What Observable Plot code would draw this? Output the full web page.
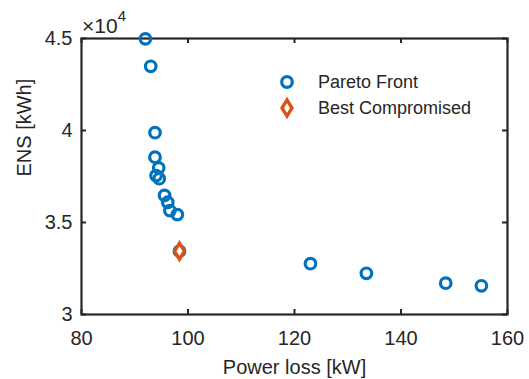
<!DOCTYPE html>
<html>
<head>
<meta charset="utf-8">
<script src="https://cdn.jsdelivr.net/npm/d3@7"></script>
<script src="https://cdn.jsdelivr.net/npm/@observablehq/plot@0.6"></script>
<style>
  html, body { margin: 0; padding: 0; background: #fff; }
  svg { display: block; }
</style>
</head>
<body>
<div id="chart"></div>
<script>
// Power loss [kW]
const paretoLoss = [92.0, 93.0, 93.8, 93.8, 94.5, 94.0, 94.6, 95.6, 96.2, 96.6, 98.0, 98.4, 123.0, 133.5, 148.4, 155.1];
// ENS [kWh] in units of 1e4
const paretoENS = [4.498, 4.349, 3.988, 3.855, 3.797, 3.755, 3.738, 3.647, 3.610, 3.565, 3.543, 3.344, 3.276, 3.224, 3.170, 3.156];
const bestLoss = [98.4];
const bestENS = [3.344];
const xTicks = [80, 100, 120, 140, 160];
const yTicks = [3, 3.5, 4, 4.5];
const seriesNames = ["Pareto Front", "Best Compromised"];
const xLabel = "Power loss [kW]";
const yLabel = "ENS [kWh]";
const exponentBase = "\u00d710";
const exponent = "4";

const blue = "#0072BD";
const orange = "#D95319";
const ink = "#262626";
const font = "'Liberation Sans', Arial, Helvetica, sans-serif";

const pareto = paretoLoss.map((x, i) => ({x, y: paretoENS[i]}));
const best = bestLoss.map((x, i) => ({x, y: bestENS[i]}));

// Tall diamond marker (MATLAB style)
const tallDiamond = {
  draw(context, size) {
    const r = Math.sqrt(size / Math.PI);
    const h = r * 1.3, w = r * 0.8;
    context.moveTo(0, -h);
    context.lineTo(w, 0);
    context.lineTo(0, h);
    context.lineTo(-w, 0);
    context.closePath();
  }
};

const W = 529, H = 379;
const mL = 81, mR = 22, mT = 38, mB = 65;
const innerW = W - mL - mR, innerH = H - mT - mB;
const tk = 5;
const ringR = 5.3, ringW = 3.2;
const diaR = 6.2, diaW = 3.4;

const chart = Plot.plot({
  width: W,
  height: H,
  marginLeft: mL,
  marginRight: mR,
  marginTop: mT,
  marginBottom: mB,
  style: {fontFamily: font, color: ink, background: "#fff"},
  x: {domain: [80, 160]},
  y: {domain: [3, 4.5]},
  marks: [
    Plot.axisX(xTicks, {anchor: "bottom", tickSize: 0, tickPadding: 16, fontSize: 20, fill: ink, label: null, tickFormat: d => String(d)}),
    Plot.axisY(yTicks, {anchor: "left", tickSize: 0, tickPadding: 9, fontSize: 20, fill: ink, label: null, tickFormat: d => String(d)}),
    // inward ticks on all four sides
    Plot.tickX(xTicks, {x: d => d, insetTop: innerH - tk, stroke: ink, strokeWidth: 2}),
    Plot.tickX(xTicks, {x: d => d, insetBottom: innerH - tk, stroke: ink, strokeWidth: 2}),
    Plot.tickY(yTicks, {y: d => d, insetRight: innerW - tk, stroke: ink, strokeWidth: 2}),
    Plot.tickY(yTicks, {y: d => d, insetLeft: innerW - tk, stroke: ink, strokeWidth: 2}),
    Plot.frame({stroke: ink, strokeWidth: 2.2}),
    Plot.dot(pareto, {x: "x", y: "y", r: ringR, stroke: blue, strokeWidth: ringW, fill: "none"}),
    Plot.dot(best, {x: "x", y: "y", r: diaR, symbol: tallDiamond, stroke: orange, strokeWidth: diaW, fill: "#fff"}),
    Plot.text([xLabel], {frameAnchor: "bottom", dy: 53, fontSize: 20, fill: ink, lineAnchor: "middle"}),
    Plot.text([yLabel], {frameAnchor: "left", dx: -57, rotate: -90, fontSize: 20, fill: ink, lineAnchor: "middle"})
  ]
});

document.getElementById("chart").appendChild(chart);

const svg = d3.select(chart);
// exponent annotation
const ex = svg.append("text")
  .attr("x", 82).attr("y", 33).attr("text-anchor", "start")
  .attr("font-family", font).attr("font-size", 21).attr("fill", ink);
ex.append("tspan").text(exponentBase);
ex.append("tspan").attr("dy", -12).attr("font-size", 15).text(exponent);

// legend
const lg = svg.append("g").attr("font-family", font).attr("font-size", 18).attr("fill", ink).attr("text-anchor", "start");
lg.append("rect").attr("x", 268).attr("y", 66).attr("width", 232).attr("height", 58).attr("fill", "#fff");
lg.append("circle").attr("cx", 287).attr("cy", 82).attr("r", ringR).attr("fill", "none").attr("stroke", blue).attr("stroke-width", ringW);
lg.append("path").attr("transform", "translate(287,108)")
  .attr("d", d3.symbol(tallDiamond, diaR * diaR * Math.PI)())
  .attr("fill", "#fff").attr("stroke", orange).attr("stroke-width", diaW);
lg.append("text").attr("x", 318).attr("y", 82).attr("dy", "0.35em").text(seriesNames[0]);
lg.append("text").attr("x", 318).attr("y", 108).attr("dy", "0.35em").text(seriesNames[1]);
</script>
</body>
</html>
